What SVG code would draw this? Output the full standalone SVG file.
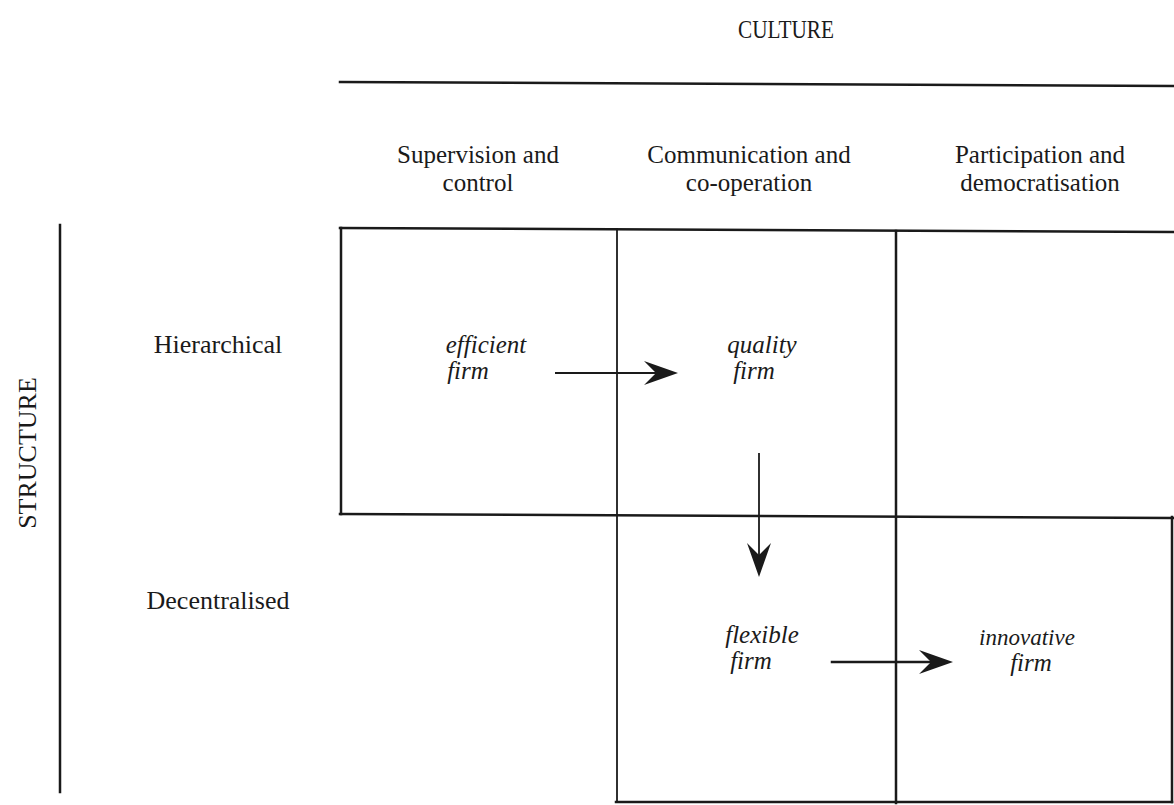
<svg xmlns="http://www.w3.org/2000/svg" width="1174" height="805" viewBox="0 0 1174 805">
<style>
.lbl{font-family:"Liberation Serif","Times New Roman",serif;font-size:26px;fill:#1a1a1a;text-anchor:middle}
.hd{font-family:"Liberation Serif","Times New Roman",serif;font-size:25px;fill:#1a1a1a;text-anchor:middle}
.cap{font-family:"Liberation Serif","Times New Roman",serif;font-size:26px;fill:#1a1a1a;text-anchor:middle}
.it{font-family:"Liberation Serif","Times New Roman",serif;font-style:italic;font-size:25px;fill:#1a1a1a;text-anchor:middle}
.ln{stroke:#1a1a1a;stroke-width:2.5;fill:none;stroke-linecap:square}
.thin{stroke:#1a1a1a;stroke-width:1.8;fill:none}
.head{fill:#1a1a1a;stroke:none}
</style>
<rect width="1174" height="805" fill="#ffffff"/>
<g id="axes">
<text class="cap" x="786" y="38" style="font-size:25px" textLength="96" lengthAdjust="spacingAndGlyphs">CULTURE</text>
<line class="ln" x1="340" y1="82" x2="1174" y2="86"/>
<text class="cap" transform="translate(36,453) rotate(-90)">STRUCTURE</text>
<line class="ln" x1="60" y1="225" x2="60" y2="792"/>
</g>
<g id="col-headers">
<text class="hd" x="478" y="163">Supervision and</text>
<text class="hd" x="478" y="191">control</text>
<text class="hd" x="749" y="163">Communication and</text>
<text class="hd" x="749" y="191">co-operation</text>
<text class="hd" x="1040" y="163">Participation and</text>
<text class="hd" x="1040" y="191">democratisation</text>
</g>
<g id="row-headers">
<text class="lbl" x="218" y="353">Hierarchical</text>
<text class="lbl" x="218" y="609">Decentralised</text>
</g>
<g id="grid">
<line class="ln" x1="340" y1="228" x2="1174" y2="232"/>
<line class="ln" x1="340" y1="514" x2="1174" y2="518"/>
<line class="ln" x1="341" y1="228" x2="341" y2="514"/>
<line class="thin" x1="617" y1="228" x2="617" y2="803"/>
<line class="ln" x1="896" y1="231" x2="896" y2="803"/>
<line class="ln" x1="1172" y1="517" x2="1172" y2="802"/>
<line class="ln" x1="616" y1="802" x2="1172" y2="802"/>
</g>
<g id="node-efficient">
<text class="it" x="486" y="353">efficient</text>
<text class="it" x="468" y="379">firm</text>
</g>
<g id="node-quality">
<text class="it" x="762" y="353">quality</text>
<text class="it" x="754" y="379">firm</text>
</g>
<g id="node-flexible">
<text class="it" x="762" y="643">flexible</text>
<text class="it" x="751" y="669">firm</text>
</g>
<g id="node-innovative">
<text class="it" x="1027" y="645" style="font-size:23px">innovative</text>
<text class="it" x="1031" y="671">firm</text>
</g>
<g id="connectors">
<line class="thin" x1="555" y1="373" x2="665" y2="373"/>
<path class="head" d="M678,373 L644,361 L656,373 L644,385 Z"/>
<line class="thin" x1="759" y1="453" x2="759" y2="562"/>
<path class="head" d="M759,577 L747,543 L759,555 L771,543 Z"/>
<line class="ln" x1="832" y1="662" x2="940" y2="662"/>
<path class="head" d="M953,662 L919,650 L931,662 L919,674 Z"/>
</g>
</svg>
